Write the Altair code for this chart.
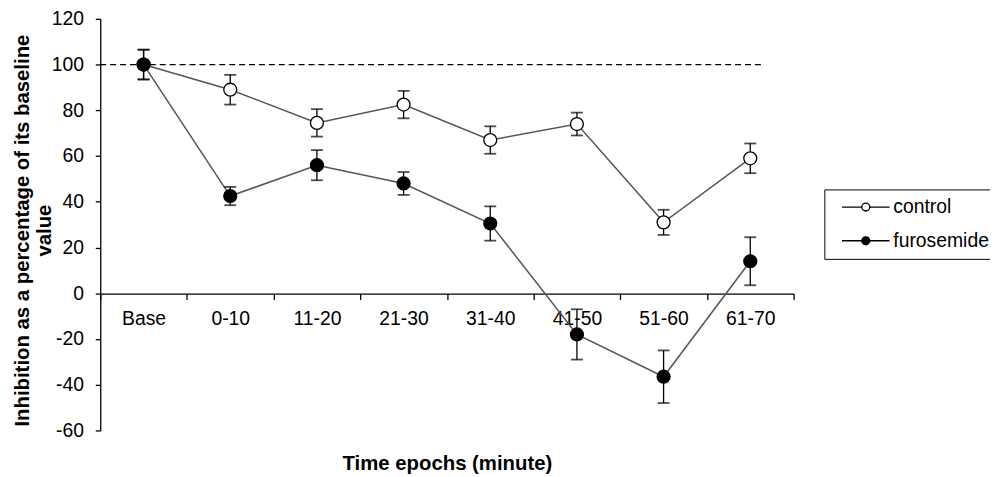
import altair as alt
import pandas as pd

categories = ["Base", "0-10", "11-20", "21-30", "31-40", "41-50", "51-60", "61-70"]
control_mean = [100, 89, 74.5, 82.5, 67, 74, 31, 59]
control_err = [6.5, 6.5, 6, 6, 6, 5, 5.5, 6.5]
furo_mean = [100, 42.5, 56, 48, 30.5, -18, -36.5, 14]
furo_err = [6.5, 4, 6.6, 5, 7.5, 11, 11.5, 10.5]
series_names = ["control", "furosemide"]
y_ticks = [-60, -40, -20, 0, 20, 40, 60, 80, 100, 120]
baseline_value = 100

rows = []
for name, means, errs in [("control", control_mean, control_err), ("furosemide", furo_mean, furo_err)]:
    for c, m, e in zip(categories, means, errs):
        rows.append({"epoch": c, "series": name, "mean": m, "lo": m - e, "hi": m + e})
df = pd.DataFrame(rows)

FONT = "Liberation Sans"

x_enc = alt.X(
    "epoch:N",
    sort=categories,
    bandPosition=0.5,
    scale=alt.Scale(type="band", domain=categories, paddingInner=0, paddingOuter=0),
    axis=alt.Axis(
        title="Time epochs (minute)",
        titleFontSize=20.5,
        titleFontWeight="bold",
        titleColor="black",
        titleY=171,
        titleBaseline="middle",
        labelFontSize=19.5,
        labelColor="black",
        labelPadding=10,
        labelAngle=0,
        offset=-138,
        tickBand="extent",
        tickSize=6,
        tickColor="black",
        tickWidth=1.3,
        domainColor="black",
        domainWidth=1.3,
        grid=False,
    ),
)

y_scale = alt.Scale(domain=[-60, 120], nice=False, zero=False)
y_axis = alt.Axis(
    title=["Inhibition as a percentage of its baseline", "value"],
    titleFontSize=20.5,
    titleFontWeight="bold",
    titleColor="black",
    titleLineHeight=22,
    titleBaseline="top",
    titleAngle=-90,
    titleX=-88,
    titleY=213,
    values=y_ticks,
    labelExpr="'' + datum.value",
    labelFontSize=19.5,
    labelColor="black",
    labelPadding=12,
    tickSize=5,
    tickColor="black",
    tickWidth=1.3,
    domainColor="black",
    domainWidth=1.3,
    grid=False,
)

base = alt.Chart(df)

ref_line = alt.Chart(pd.DataFrame({"v": [baseline_value]})).mark_rule(
    color="black", strokeDash=[6, 4], strokeWidth=1.3
).encode(
    y=alt.Y("v:Q", scale=y_scale, axis=y_axis),
    x=alt.value(0),
    x2=alt.value(669),
)

lines = base.mark_line(color="#555555", strokeWidth=1.5).encode(
    x=x_enc,
    y=alt.Y("mean:Q", scale=y_scale, axis=y_axis),
    detail="series:N",
)

err = base.mark_rule(color="black", strokeWidth=1.3).encode(
    x=x_enc, y=alt.Y("lo:Q", scale=y_scale), y2="hi:Q"
)

cap_lo = base.mark_tick(color="black", size=12, thickness=1.8, orient="horizontal").encode(
    x=x_enc, y=alt.Y("lo:Q", scale=y_scale)
)
cap_hi = base.mark_tick(color="black", size=12, thickness=1.8, orient="horizontal").encode(
    x=x_enc, y=alt.Y("hi:Q", scale=y_scale)
)

# line - circle - line legend symbol, shifted right inside the legend box
legend_path = "M0,0L5,0M7,0L12,0M5,0A1,1,0,1,1,7,0A1,1,0,1,1,5,0Z"

points = base.mark_point(filled=True, stroke="black", strokeWidth=1.3, size=170, opacity=1).encode(
    x=x_enc,
    y=alt.Y("mean:Q", scale=y_scale),
    fill=alt.Fill(
        "series:N",
        scale=alt.Scale(domain=series_names, range=["white", "black"]),
        legend=alt.Legend(
            title=None,
            orient="none",
            legendX=730,
            legendY=172,
            symbolType=legend_path,
            symbolSize=64,
            symbolStrokeColor="black",
            symbolStrokeWidth=1.3,
            symbolOpacity=1,
            labelFontSize=19.5,
            labelColor="black",
            labelOffset=42,
            rowPadding=13,
            padding=8,
            strokeColor="black",
            fillColor="white",
        ),
    ),
    order=alt.Order("series:N"),
)

chart = alt.layer(ref_line, lines, err, cap_lo, cap_hi, points).properties(
    width=699,
    height=415,
    autosize=alt.AutoSizeParams(type="none"),
    padding={"left": 93, "top": 9, "right": 198, "bottom": 46},
).configure(font=FONT).configure_view(stroke=None)

chart.save("out.html", embed_options={"renderer": "svg", "actions": False})
